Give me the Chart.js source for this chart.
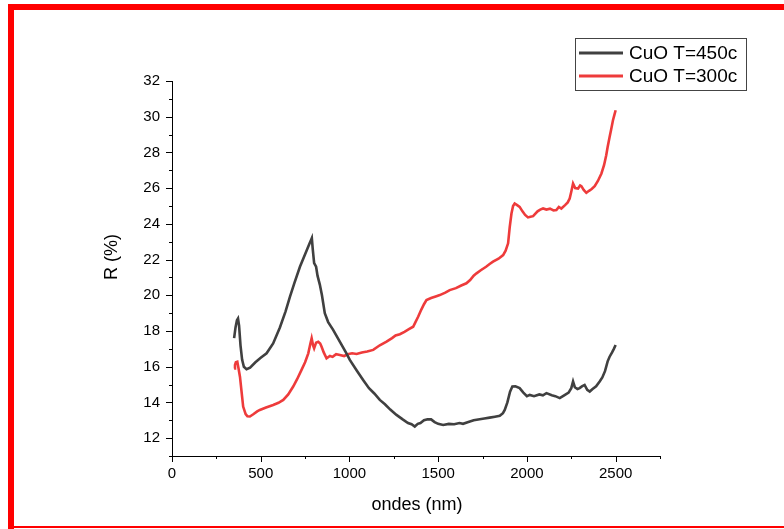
<!DOCTYPE html>
<html>
<head>
<meta charset="utf-8">
<script src="https://cdn.jsdelivr.net/npm/chart.js@4/dist/chart.umd.min.js"></script>
<style>
html,body{margin:0;padding:0;background:#fff;}
canvas{display:block;}
</style>
</head>
<body>
<canvas id="c" width="784" height="529"></canvas>
<script>
// ---- data ----
const seriesLabels = ["CuO T=450c", "CuO T=300c"];
const xTicks = [0, 500, 1000, 1500, 2000, 2500];
const yTicks = [12, 14, 16, 18, 20, 22, 24, 26, 28, 30, 32];

const wl450 = [350,358,366,372,378,386,395,405,420,440,470,500,533,570,608,640,664,690,721,750,775,788,793,801,812,820,833,845,861,880,908,940,983,1002,1040,1077,1110,1140,1171,1200,1230,1265,1300,1330,1350,1368,1385,1400,1420,1440,1460,1480,1500,1528,1560,1590,1620,1640,1670,1700,1734,1760,1790,1820,1847,1865,1875,1890,1905,1918,1935,1959,1980,2000,2016,2040,2070,2090,2110,2140,2160,2185,2210,2235,2250,2260,2270,2285,2297,2310,2325,2340,2354,2370,2390,2410,2425,2440,2447,2455,2466,2480,2490,2500];
const r450 = [17.6,18.2,18.6,18.7,18.3,17.2,16.4,16.0,15.86,15.95,16.25,16.5,16.75,17.3,18.2,19.1,19.9,20.7,21.6,22.3,22.9,23.2,22.6,21.8,21.6,21.1,20.6,20.0,19.0,18.5,18.06,17.5,16.75,16.38,15.8,15.26,14.8,14.5,14.14,13.9,13.6,13.3,13.05,12.85,12.78,12.65,12.8,12.85,13.0,13.06,13.05,12.9,12.8,12.74,12.8,12.78,12.85,12.8,12.9,13.0,13.06,13.1,13.15,13.2,13.25,13.4,13.58,14.0,14.6,14.89,14.9,14.8,14.55,14.35,14.42,14.35,14.45,14.4,14.52,14.4,14.35,14.24,14.4,14.55,14.8,15.17,14.85,14.75,14.8,14.9,14.98,14.7,14.61,14.75,14.9,15.17,15.4,15.75,16.0,16.3,16.56,16.8,17.0,17.22];

const wl300 = [350,355,360,368,375,383,392,401,415,425,439,460,480,495,530,570,600,627,655,683,705,730,750,768,780,787,795,801,812,824,835,843,855,871,890,905,925,946,970,990,1015,1040,1070,1100,1134,1171,1209,1240,1260,1284,1310,1335,1359,1372,1387,1405,1420,1434,1460,1490,1509,1540,1565,1600,1630,1659,1680,1700,1716,1740,1770,1790,1809,1840,1866,1880,1894,1903,1913,1922,1931,1945,1959,1975,1990,2006,2020,2035,2060,2075,2091,2110,2130,2150,2166,2180,2194,2215,2230,2241,2250,2260,2272,2288,2300,2307,2320,2335,2350,2365,2382,2400,2420,2435,2447,2455,2466,2475,2485,2493,2500];
const r300 = [15.9,16.1,16.25,16.28,15.9,15.44,14.6,13.77,13.35,13.22,13.21,13.35,13.5,13.58,13.72,13.86,13.98,14.14,14.45,14.89,15.3,15.82,16.25,16.75,17.3,17.59,17.2,17.03,17.35,17.4,17.3,17.12,16.8,16.47,16.6,16.55,16.7,16.66,16.6,16.7,16.75,16.71,16.8,16.85,16.94,17.2,17.4,17.6,17.75,17.82,17.95,18.1,18.24,18.5,18.8,19.2,19.5,19.73,19.85,19.95,20.01,20.15,20.29,20.4,20.55,20.67,20.85,21.1,21.23,21.4,21.6,21.75,21.88,22.05,22.25,22.5,22.91,23.8,24.58,25.0,25.14,25.05,24.95,24.7,24.5,24.36,24.4,24.43,24.7,24.8,24.86,24.8,24.85,24.75,24.77,24.95,24.86,25.05,25.2,25.42,25.8,26.26,26.0,25.98,26.15,26.11,25.9,25.74,25.85,25.95,26.11,26.4,26.82,27.3,27.84,28.3,28.87,29.3,29.8,30.1,30.36];

const COL450 = "#404040";
const COL300 = "#ee3b3b";
const FONT = "'Liberation Sans', Arial, sans-serif";

const toPts = (xs, ys) => xs.map((x, i) => ({x: x, y: ys[i]}));

const decor = {
  id: "decor",
  beforeDraw(chart) {
    const ctx = chart.ctx;
    ctx.save();
    ctx.fillStyle = "#ffffff";
    ctx.fillRect(0, 0, chart.width, chart.height);
    ctx.restore();
  },
  afterDraw(chart) {
    const ctx = chart.ctx;
    const xs = chart.scales.x, ys = chart.scales.y;
    const area = chart.chartArea;
    ctx.save();
    ctx.strokeStyle = "#000";
    ctx.lineWidth = 1;
    // x ticks (major + minor)
    for (let v = 0; v <= 2750; v += 250) {
      const px = Math.round(xs.getPixelForValue(v)) + 0.5;
      const len = (v % 500 === 0) ? 6 : 3;
      ctx.beginPath();
      ctx.moveTo(px, area.bottom);
      ctx.lineTo(px, area.bottom + len);
      ctx.stroke();
    }
    // y ticks
    for (let v = 11; v <= 32; v += 1) {
      const py = Math.round(ys.getPixelForValue(v)) + 0.5;
      const len = (v % 2 === 0) ? 6 : 3;
      ctx.beginPath();
      ctx.moveTo(area.left, py);
      ctx.lineTo(area.left - len, py);
      ctx.stroke();
    }
    // axis titles
    ctx.fillStyle = "#000";
    ctx.font = "18px " + FONT;
    ctx.textAlign = "center";
    ctx.textBaseline = "middle";
    ctx.fillText("ondes (nm)", (area.left + area.right) / 2 + 1, 505);
    ctx.save();
    ctx.translate(112, 257);
    ctx.rotate(-Math.PI / 2);
    ctx.fillText("R (%)", 0, 0);
    ctx.restore();

    // legend
    const bx = 575, by = 38, bw = 171, bh = 52;
    ctx.strokeStyle = "#444";
    ctx.lineWidth = 1;
    ctx.strokeRect(bx + 0.5, by + 0.5, bw, bh);
    ctx.font = "19px " + FONT;
    ctx.textAlign = "left";
    ctx.textBaseline = "middle";
    chart.data.datasets.forEach((ds, i) => {
      const y = 53 + i * 23;
      ctx.strokeStyle = ds.borderColor;
      ctx.lineWidth = 3;
      ctx.beginPath();
      ctx.moveTo(579, y);
      ctx.lineTo(623, y);
      ctx.stroke();
      ctx.fillStyle = "#000";
      ctx.fillText(ds.label, 629, y + 1);
    });

    // red frame
    ctx.fillStyle = "#ff0000";
    ctx.fillRect(8, 4, chart.width - 8, 6);
    ctx.fillRect(8, 4, 6, chart.height - 4);
    ctx.fillRect(8, chart.height - 3, chart.width - 8, 2);
    ctx.restore();
  }
};

new Chart(document.getElementById("c"), {
  type: "line",
  data: {
    datasets: [
      {label: seriesLabels[0], data: toPts(wl450, r450), borderColor: COL450, borderWidth: 2.6, pointRadius: 0, tension: 0, fill: false},
      {label: seriesLabels[1], data: toPts(wl300, r300), borderColor: COL300, borderWidth: 2.6, pointRadius: 0, tension: 0, fill: false}
    ]
  },
  options: {
    responsive: false,
    animation: false,
    devicePixelRatio: 1,
    layout: {padding: {left: 0, top: 81, right: 124, bottom: 0}},
    plugins: {legend: {display: false}, tooltip: {enabled: false}},
    scales: {
      x: {
        type: "linear", min: 0, max: 2750,
        afterBuildTicks: s => { s.ticks = xTicks.map(v => ({value: v})); },
        afterFit: s => { s.height = 73; },
        grid: {display: false, drawTicks: false},
        border: {display: true, color: "#000", width: 1},
        ticks: {color: "#000", font: {family: FONT, size: 15}, padding: 9, maxRotation: 0, autoSkip: false, callback: v => String(v)}
      },
      y: {
        type: "linear", min: 11, max: 32,
        afterBuildTicks: s => { s.ticks = yTicks.map(v => ({value: v})); },
        afterFit: s => { s.width = 172; },
        grid: {display: false, drawTicks: false},
        border: {display: true, color: "#000", width: 1},
        ticks: {color: "#000", font: {family: FONT, size: 15}, padding: 12, autoSkip: false, callback: v => String(v)}
      }
    }
  },
  plugins: [decor]
});
</script>
</body>
</html>
